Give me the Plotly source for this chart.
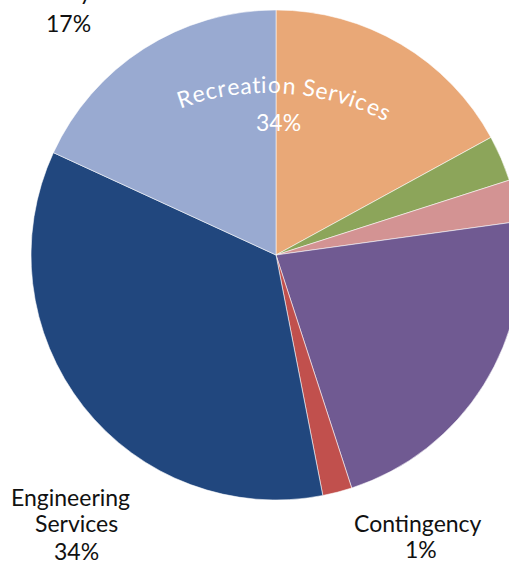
import math
import plotly.graph_objects as go

# Budget shares by service area (percent of total), clockwise from 12 o'clock
categories = ["Recreation Services", "Library", "Planning", "General Government",
              "Contingency", "Engineering Services", "Public Safety"]
shares = [17.03, 3.03, 2.75, 22.19, 1.94, 34.92, 18.14]
colors = ["#E9A877", "#8CA55A", "#D39393", "#705A92", "#C1504D", "#21477E", "#99AAD1"]

# Data label text
outer_labels = {
    "Public Safety": ["Public", "Safety", "17%"],
    "Engineering Services": ["Engineering", "Services", "34%"],
    "Contingency": ["Contingency", "1%"],
}
arc_label = "Recreation Services"
arc_pct = "34%"

FONT = "Lato"
FS = 23

# Canvas geometry (pixels)
FIG_W, FIG_H = 552, 565
L, T, SIZE = 31, 10, 490


def to_paper(px, py):
    return (px - L) / SIZE, 1 - (py - T) / SIZE


fig = go.Figure(go.Pie(
    labels=categories,
    values=shares,
    sort=False,
    direction="clockwise",
    rotation=0,
    marker=dict(colors=colors, line=dict(color="rgba(255,255,255,0.55)", width=1)),
    textinfo="none",
    hoverinfo="label+percent",
    showlegend=False,
))

annotations = []


def add_text(text, px, py, color="#111111", angle=0, size=FS):
    x, y = to_paper(px, py)
    annotations.append(dict(
        text=text, x=x, y=y, xref="paper", yref="paper",
        xanchor="center", yanchor="middle", showarrow=False,
        textangle=angle, font=dict(family=FONT, size=size, color=color),
    ))


# Outside labels, one line at a time
line_pos = {
    "Public Safety": [(62, -39), (60, -9), (68, 23)],
    "Engineering Services": [(70, 497), (76, 523), (76, 551)],
    "Contingency": [(418, 523), (421, 549)],
}
for name, lines in outer_labels.items():
    for txt, (px, py) in zip(lines, line_pos[name]):
        add_text(txt, px, py)

# Curved white label following an arc
adv = {"R": .60, "e": .52, "c": .46, "r": .36, "a": .50, "t": .34, "i": .24,
       "o": .56, "n": .55, " ": .25, "S": .49, "v": .49, "s": .40}
cx, cy, R = 268, 347, 255
a0, a1 = math.radians(-20.3), math.radians(27.5)
total = sum(adv[c] for c in arc_label)
scale = (a1 - a0) * R / total
s = 0.0
for ch in arc_label:
    w = adv[ch] * scale
    th = a0 + (s + w / 2) / R
    s += w
    if ch == " ":
        continue
    rr = R + 8
    add_text(ch, cx + rr * math.sin(th), cy - rr * math.cos(th),
             color="white", angle=math.degrees(th))
add_text(arc_pct, 278, 122, color="white")

fig.update_layout(
    width=FIG_W, height=FIG_H,
    margin=dict(l=L, r=FIG_W - L - SIZE, t=T, b=FIG_H - T - SIZE, pad=0),
    paper_bgcolor="white", plot_bgcolor="white",
    annotations=annotations,
)

fig.write_html(
    "out.html",
    post_script=("document.documentElement.style.overflow='hidden';"
                 "document.body.style.overflow='hidden';"
                 "document.body.style.margin='0';"),
)
